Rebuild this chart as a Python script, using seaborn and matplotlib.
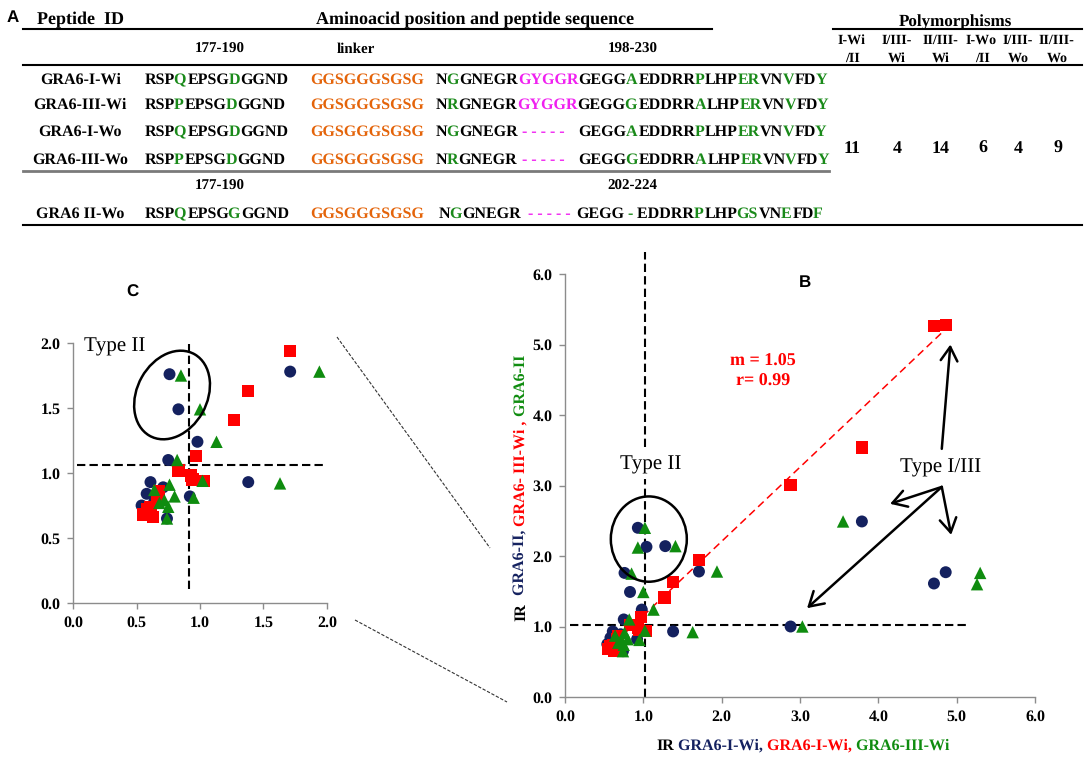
import re
import numpy as np
import matplotlib
matplotlib.use("Agg")
import matplotlib.pyplot as plt
import seaborn as sns
from matplotlib.figure import Figure
from matplotlib.backends.backend_agg import FigureCanvasAgg
from matplotlib.patches import Ellipse
from matplotlib.lines import Line2D
from matplotlib.font_manager import FontProperties
from matplotlib.ticker import FormatStrFormatter, MultipleLocator

# plain glyph placement, so a piece of a line is drawn the same alone or in the whole line
plt.rcParams["text.hinting"] = "no_hinting"
plt.rcParams["text.hinting_factor"] = 1

# %% data
# IR of GRA6-I-Wi (navy circles), GRA6-I-Wi (red squares), GRA6-III-Wi (green triangles)
navy_x = [0.93, 1.04, 1.28, 0.76, 0.83, 0.98, 0.75, 1.71, 1.38, 0.61, 0.58, 0.54, 0.71, 0.92, 0.74, 0.64,
          2.88, 3.79, 4.71, 4.86]
navy_y = [2.40, 2.13, 2.14, 1.76, 1.49, 1.24, 1.10, 1.78, 0.93, 0.93, 0.84, 0.75, 0.89, 0.82, 0.65, 0.78,
          1.00, 2.49, 1.61, 1.77]
red_x = [1.71, 1.38, 1.27, 0.97, 0.83, 0.93, 0.94, 1.03, 0.55, 0.63, 0.61, 0.66, 0.58, 0.68,
         2.88, 3.79, 4.71, 4.86]
red_y = [1.94, 1.63, 1.41, 1.13, 1.02, 0.98, 0.95, 0.94, 0.68, 0.66, 0.74, 0.82, 0.72, 0.86,
         3.01, 3.54, 5.26, 5.28]
green_x = [1.02, 0.93, 1.41, 0.85, 1.00, 1.13, 1.94, 1.63, 0.82, 1.02, 0.95, 0.64, 0.76, 0.72, 0.80,
           0.75, 0.68, 0.74, 3.03, 3.55, 5.30, 5.26]
green_y = [2.40, 2.12, 2.14, 1.75, 1.49, 1.24, 1.78, 0.92, 1.10, 0.94, 0.81, 0.87, 0.91, 0.79, 0.82,
           0.74, 0.77, 0.65, 1.00, 2.49, 1.76, 1.60]
fit_x = [0.54, 4.88]
fit_y = [0.67, 5.24]

# table A: [..] = green letters, {..} = magenta letters
peptide_ids = ["GRA6-I-Wi", "GRA6-III-Wi", "GRA6-I-Wo", "GRA6-III-Wo"]
seq_n = ["RSP[Q]EPSG[D]GGND", "RSP[P]EPSG[D]GGND", "RSP[Q]EPSG[D]GGND", "RSP[P]EPSG[D]GGND"]
linker = "GGSGGGSGSG"
seq_c = [
    ["N[G]GNEGR{GYGGR}GEGG[A]EDDRR[P]LHP[ER]VN[V]FD[Y]"],
    ["N[R]GNEGR{GYGGR}GEGG[G]EDDRR[A]LHP[ER]VN[V]FD[Y]"],
    ["N[G]GNEGR", "{- - - - -}", "GEGG[A]EDDRR[P]LHP[ER]VN[V]FD[Y]"],
    ["N[R]GNEGR", "{- - - - -}", "GEGG[G]EDDRR[A]LHP[ER]VN[V]FD[Y]"],
]
ii_id = "GRA6 II-Wo"
ii_seq_n = "RSP[Q]EPSG[G]GGND"
ii_seq_c = ["N[G]GNEGR", "{- - - - -}", "GEGG[ -] EDDRR[P]LHP[GS]VN[E]FD[F]"]
poly_cols = [("I-Wi", "/II"), ("I/III-", "Wi"), ("II/III-", "Wi"), ("I-Wo", "/II"), ("I/III-", "Wo"), ("II/III-", "Wo")]
poly_vals = [11, 4, 14, 6, 4, 9]

NAVY, RED, GREEN = "#14215f", "#ff0000", "#0f8c0f"
TXT_GREEN, MAGENTA, ORANGE = "#1a8a1a", "#f020f0", "#e4640a"
SERIF = "Liberation Serif"

W, H = 1084, 757
fig = plt.figure(figsize=(W / 100, H / 100), dpi=100)
renderer = fig.canvas.get_renderer()

# small off-screen canvas to see where the glyphs of a coloured piece really land
probe = Figure(figsize=(9, 0.5), dpi=100)
probe_canvas = FigureCanvasAgg(probe)


def ink_profile(s, prop):
    probe.clear()
    probe.text(10 / 900, 0.3, s, fontproperties=prop, va="baseline")
    probe_canvas.draw()
    img = np.asarray(probe_canvas.buffer_rgba())[..., :3].astype(float)
    return (255 - img.min(axis=2)).sum(axis=0)


def parse(markup, base):
    out = []
    for piece in re.split(r"(\[[^\]]*\]|\{[^}]*\})", markup):
        if not piece:
            continue
        if piece[0] == "[":
            out.append((piece[1:-1], TXT_GREEN))
        elif piece[0] == "{":
            out.append((piece[1:-1], MAGENTA))
        else:
            out.append((piece, base))
    return out


def advance(s, prop):
    w1 = renderer.get_text_width_height_descent("|" + s + "|", prop, ismath=False)[0]
    w0 = renderer.get_text_width_height_descent("||", prop, ismath=False)[0]
    return w1 - w0


def piece_offsets(parts, prop):
    # match each piece's ink against the ink of the whole line drawn in one go
    if len(parts) == 1:
        return [0.0]
    pf = ink_profile("".join(s for s, _ in parts), prop)
    offs, prefix = [], ""
    for s, _ in parts:
        if not prefix:
            offs.append(0.0)
            prefix += s
            continue
        e = advance(prefix, prop)
        ps = ink_profile(s, prop)
        idx = np.nonzero(ps > 0)[0]
        best, bestd = None, e
        if len(idx):
            lo, hi = idx[0], idx[-1] + 1
            seg = ps[lo:hi]
            for d in range(int(round(e)) - 5, int(round(e)) + 6):
                a, b = lo + d, hi + d
                if a < 0 or b > len(pf):
                    continue
                cost = np.abs(pf[a:b] - seg).sum() + 20 * abs(d - e)
                if best is None or cost < best:
                    best, bestd = cost, d
        offs.append(float(bestd))
        prefix += s
    return offs


def ctext(x, y, parts, size=11.3, ha="left", rot=False, weight="bold", family=SERIF):
    # x, y in pixels from top-left; y is the baseline
    prop = FontProperties(family=family, weight=weight, size=size)
    total = advance("".join(s for s, _ in parts), prop)
    start = round(-total / 2) if ha == "center" else 0
    if rot:
        prefix = ""
        for s, c in parts:
            off = start + (advance(prefix, prop) if prefix else 0)
            fig.text(x / W, 1 - (y - off) / H, s, color=c, fontproperties=prop, rotation=90,
                     rotation_mode="anchor", ha="left", va="baseline")
            prefix += s
        return total
    for (s, c), off in zip(parts, piece_offsets(parts, prop)):
        fig.text((x + start + off) / W, 1 - y / H, s, color=c, fontproperties=prop, ha="left", va="baseline")
    return total


def hline(y, x0, x1, color="black", lw=1.5):
    fig.add_artist(Line2D([x0 / W, x1 / W], [1 - y / H, 1 - y / H], color=color, lw=lw))


# %% panel A: table
fig.text(7 / W, 1 - 22 / H, "A", size=12, weight="bold", family="Liberation Sans")
ctext(37, 24.5, [("Peptide  ID", "black")], size=13)
ctext(475, 24.5, [("Aminoacid position and peptide sequence", "black")], size=13, ha="center")
ctext(956, 26, [("Polymorphisms", "black")], size=12.5, ha="center")
hline(29.3, 23, 712)
hline(29.3, 833, 1082)
ctext(220, 53, [("177-190", "black")], size=11, ha="center")
ctext(356, 53, [("linker", "black")], size=11, ha="center")
ctext(633, 53, [("198-230", "black")], size=11, ha="center")
poly_x = [852, 897, 941, 982, 1018, 1057]
for cx, (l1, l2), v in zip(poly_x, poly_cols, poly_vals):
    ctext(cx, 44, [(l1, "black")], size=10, ha="center")
    ctext(cx, 62, [(l2, "black")], size=10, ha="center")
    ctext(cx, 153, [(str(v), "black")], size=13, ha="center")
hline(65, 23, 1082)

row_base = [84, 108.7, 136, 164]
starts_c = [436, 522, 578]
for yb, pid, sn, sc in zip(row_base, peptide_ids, seq_n, seq_c):
    ctext(80, yb, [(pid, "black")], ha="center")
    ctext(145, yb, parse(sn, "black"))
    ctext(310, yb, [(linker, ORANGE)])
    for xs, part in zip(starts_c, sc):
        ctext(xs, yb, parse(part, "black"))
hline(171, 23, 829, color="#7a7a7a", lw=2.0)
ctext(220, 190, [("177-190", "black")], size=11, ha="center")
ctext(632, 190, [("202-224", "black")], size=11, ha="center")
ctext(80, 218, [(ii_id, "black")], ha="center")
ctext(145, 218, parse(ii_seq_n, "black"))
ctext(310, 218, [(linker, ORANGE)])
for xs, part in zip([439, 528, 576], ii_seq_c):
    ctext(xs, 218, parse(part, "black"))
hline(225, 23, 1082)

# %% scatter panels
axC = fig.add_axes([73 / W, 1 - 603 / H, 254 / W, 260 / H])
axB = fig.add_axes([565 / W, 1 - 697 / H, 470 / W, 423 / H])


def draw_points(ax):
    sns.scatterplot(x=navy_x, y=navy_y, color=NAVY, marker="o", s=74, edgecolor="none", linewidth=0, ax=ax, zorder=3)
    sns.scatterplot(x=red_x, y=red_y, color=RED, marker="s", s=78, edgecolor="none", linewidth=0, ax=ax, zorder=3)
    sns.scatterplot(x=green_x, y=green_y, color=GREEN, marker="^", s=80, edgecolor="none", linewidth=0, ax=ax, zorder=3)


def style_axes(ax, lim, step):
    ax.set_xlim(0, lim)
    ax.set_ylim(0, lim)
    ax.xaxis.set_major_locator(MultipleLocator(step))
    ax.yaxis.set_major_locator(MultipleLocator(step))
    ax.xaxis.set_major_formatter(FormatStrFormatter("%.1f"))
    ax.yaxis.set_major_formatter(FormatStrFormatter("%.1f"))
    for sp in ["top", "right"]:
        ax.spines[sp].set_visible(False)
    for sp in ["left", "bottom"]:
        ax.spines[sp].set_color("#8c8c8c")
        ax.spines[sp].set_linewidth(1.0)
    ax.tick_params(direction="out", length=4, width=1, color="#8c8c8c", pad=5)
    for lab in ax.get_xticklabels() + ax.get_yticklabels():
        lab.set_fontfamily(SERIF)
        lab.set_fontweight("bold")
        lab.set_fontsize(11.5)
    ax.set_facecolor("none")


dash = (0, (4, 2))

# panel C (zoom)
draw_points(axC)
style_axes(axC, 2.0, 0.5)
axC.plot([0.91, 0.91], [0.11, 1.99], color="black", lw=1.5, ls=dash, zorder=2)
axC.plot([0.03, 1.97], [1.06, 1.06], color="black", lw=1.5, ls=dash, zorder=2)
axC.add_patch(Ellipse((0.78, 1.60), 0.72, 0.55, angle=60, fill=False, ec="black", lw=1.8, zorder=4))
axC.text(0.33, 1.97, "Type II", family=SERIF, size=15, ha="center", va="center")
axC.text(0.47, 2.39, "C", family="Liberation Sans", weight="bold", size=12, ha="center", va="center")

# panel B
draw_points(axB)
style_axes(axB, 6.0, 1.0)
axB.plot(fit_x, fit_y, color=RED, lw=1.1, ls=(0, (5, 3)), zorder=2)
axB.plot([1.02, 1.02], [0, 6.31], color="black", lw=1.5, ls=dash, zorder=2, clip_on=False)
axB.plot([0.07, 5.15], [1.02, 1.02], color="black", lw=1.5, ls=dash, zorder=2)
axB.add_patch(Ellipse((1.07, 2.24), 0.97, 1.21, fill=False, ec="black", lw=1.8, zorder=4))
axB.text(1.09, 3.30, "Type II", family=SERIF, size=15, ha="center", va="center", zorder=5,
         bbox=dict(fc="white", ec="none", pad=4))
axB.text(4.79, 3.25, "Type I/III", family=SERIF, size=15, ha="center", va="center")
axB.text(2.53, 4.76, "m = 1.05", family=SERIF, weight="bold", size=13, color=RED, ha="center", va="center")
axB.text(2.53, 4.47, "r= 0.99", family=SERIF, weight="bold", size=13, color=RED, ha="center", va="center")
axB.text(3.06, 5.88, "B", family="Liberation Sans", weight="bold", size=12, ha="center", va="center")
arrow = dict(arrowstyle="->, head_length=0.5, head_width=0.3", lw=1.8, color="black",
             mutation_scale=20, shrinkA=0, shrinkB=0)
for tx, ty in [(4.15, 2.74), (3.09, 1.26), (4.93, 2.30)]:
    axB.annotate("", xy=(tx, ty), xytext=(4.81, 2.98), arrowprops=arrow)
axB.annotate("", xy=(4.92, 5.00), xytext=(4.81, 3.52), arrowprops=arrow)

# axis titles of B in several colours
ctext(803, 750, [("IR", "black"), (" GRA6-I-Wi,", NAVY), (" GRA6-I-Wi,", RED), (" GRA6-III-Wi", GREEN)],
      size=11.5, ha="center")
ctext(525, 488, [("IR", "black"), ("  GRA6-II,", NAVY), (" GRA6- III-Wi ,", RED), (" GRA6-II", GREEN)],
      size=11.5, ha="center", rot=True)

# zoom guide lines between C and B
for (x0, y0), (x1, y1) in [((337, 337), (490, 548)), ((355, 620), (507, 702))]:
    fig.add_artist(Line2D([x0 / W, x1 / W], [1 - y0 / H, 1 - y1 / H], color="#333333",
                          lw=0.8, ls=(0, (3, 1.5))))

fig.savefig("out.png", dpi=100)
